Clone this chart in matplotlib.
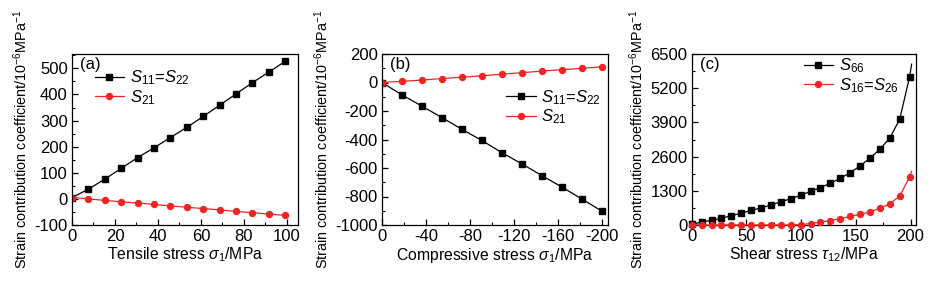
import matplotlib as mpl
import matplotlib.pyplot as plt
from matplotlib.ticker import MultipleLocator

mpl.rcParams['font.family'] = 'Liberation Sans'
mpl.rcParams['mathtext.fontset'] = 'custom'
mpl.rcParams['mathtext.rm'] = 'Liberation Sans'
mpl.rcParams['mathtext.it'] = 'Liberation Sans:italic'
mpl.rcParams['axes.unicode_minus'] = False

# (a) tensile stress
a_x = [0, 7.6, 15.3, 22.9, 30.5, 38.2, 45.8, 53.4, 61.1, 68.7, 76.3, 83.9, 91.6, 99.2]
a_s11 = [5, 37, 76, 117, 158, 196, 235, 274, 316, 359, 402, 445, 486, 527]
a_s21 = [5, 0, -6, -11, -16, -21, -27, -32, -37, -42, -48, -53, -58, -63]

# (b) compressive stress
b_x = [0, -18.2, -36.4, -54.5, -72.7, -90.9, -109.1, -127.3, -145.5, -163.6, -181.8, -200]
b_s11 = [0, -87, -166, -246, -328, -407, -492, -571, -653, -733, -817, -902]
b_s21 = [0, 8, 17, 28, 37, 47, 58, 69, 80, 90, 99, 110]

# (c) shear stress
c_x = [0, 9.1, 18.1, 27.2, 36.2, 45.3, 54.3, 63.4, 72.4, 81.5, 90.5, 99.6,
       108.6, 117.7, 126.7, 135.8, 144.8, 153.9, 162.9, 172.0, 181.0, 190.1, 199.1]
c_s66 = [20, 115, 175, 255, 355, 445, 555, 650, 760, 880, 1000, 1125,
         1280, 1420, 1590, 1770, 1990, 2245, 2540, 2880, 3300, 4020, 5620]
c_s16 = [0, 0, 0, 0, 0, 0, 0, 0, 0, 0, 0, 15,
         55, 110, 170, 240, 325, 405, 505, 630, 805, 1100, 1820]
# curve end beyond last marker
c_end_x = 201
c_s66_end = 6115
c_s16_end = 2040

RED = '#EE2525'
YLABEL = 'Strain contribution coefficient/10$^{-6}$MPa$^{-1}$'

fig = plt.figure(figsize=(9.35, 2.92), dpi=100, facecolor='white')


def make_axes(left, right):
    ax = fig.add_axes([left / 935, (292 - 225) / 292, (right - left) / 935, 171 / 292])
    for s in ax.spines.values():
        s.set_linewidth(0.9)
    ax.tick_params(which='both', direction='in', top=False, right=False,
                   labelsize=12, pad=3)
    ax.tick_params(which='major', length=4, width=0.9)
    ax.tick_params(which='minor', length=2.2, width=0.8)
    ax.set_ylabel(YLABEL, fontsize=10.4, labelpad=3)
    return ax


def style_legend(ax, anchor):
    ax.legend(loc='upper left', bbox_to_anchor=anchor, frameon=False, fontsize=12,
              handlelength=1.75, handletextpad=0.35, labelspacing=0.05,
              borderaxespad=0, borderpad=0)


# panel (a)
ax = make_axes(72, 297.7)
ax.plot(a_x, a_s11, '-s', color='black', lw=0.9, ms=3.8, label='$S_{11}$=$S_{22}$')
ax.plot(a_x, a_s21, '-o', color=RED, lw=0.9, ms=4.3, label='$S_{21}$')
ax.set_xlim(0, 105)
ax.set_ylim(-100, 555)
ax.xaxis.set_major_locator(MultipleLocator(20))
ax.xaxis.set_minor_locator(MultipleLocator(10))
ax.yaxis.set_major_locator(MultipleLocator(100))
ax.yaxis.set_minor_locator(MultipleLocator(50))
ax.set_xlabel('Tensile stress $\\sigma_1$/MPa', fontsize=11.3, labelpad=1)
ax.text(0.035, 0.985, '(a)', transform=ax.transAxes, fontsize=12, va='top', ha='left')
style_legend(ax, (0.10, 0.915))

# panel (b)
ax = make_axes(382, 608.3)
ax.plot(b_x, b_s11, '-s', color='black', lw=0.9, ms=3.8, label='$S_{11}$=$S_{22}$')
ax.plot(b_x, b_s21, '-o', color=RED, lw=0.9, ms=4.3, label='$S_{21}$')
ax.set_xlim(0, -206)
ax.set_ylim(-1000, 200)
ax.xaxis.set_major_locator(MultipleLocator(40))
ax.xaxis.set_minor_locator(MultipleLocator(20))
ax.yaxis.set_major_locator(MultipleLocator(200))
ax.yaxis.set_minor_locator(MultipleLocator(100))
ax.set_xlabel('Compressive stress $\\sigma_1$/MPa', fontsize=11.3, labelpad=1)
ax.text(0.035, 0.985, '(b)', transform=ax.transAxes, fontsize=12, va='top', ha='left')
style_legend(ax, (0.55, 0.80))

# panel (c)
ax = make_axes(691.7, 916)
ax.plot(c_x + [c_end_x], c_s66 + [c_s66_end], '-', color='black', lw=0.9, clip_on=False)
ax.plot(c_x + [c_end_x], c_s16 + [c_s16_end], '-', color=RED, lw=0.9, clip_on=False, zorder=3)
ax.plot(c_x, c_s66, 's', color='black', ms=3.8, clip_on=False, zorder=4)
ax.plot(c_x, c_s16, 'o', color=RED, ms=4.3, clip_on=False, zorder=4)
ax.plot([], [], '-s', color='black', lw=0.9, ms=3.8, label='$S_{66}$')
ax.plot([], [], '-o', color=RED, lw=0.9, ms=4.3, label='$S_{16}$=$S_{26}$')
ax.set_xlim(0, 205)
ax.set_ylim(0, 6500)
ax.xaxis.set_major_locator(MultipleLocator(50))
ax.xaxis.set_minor_locator(MultipleLocator(25))
ax.yaxis.set_major_locator(MultipleLocator(1300))
ax.yaxis.set_minor_locator(MultipleLocator(650))
ax.set_xlabel('Shear stress $\\tau_{12}$/MPa', fontsize=11.3, labelpad=1)
ax.text(0.035, 0.985, '(c)', transform=ax.transAxes, fontsize=12, va='top', ha='left')
style_legend(ax, (0.50, 0.985))

fig.savefig('out.png', dpi=100)
